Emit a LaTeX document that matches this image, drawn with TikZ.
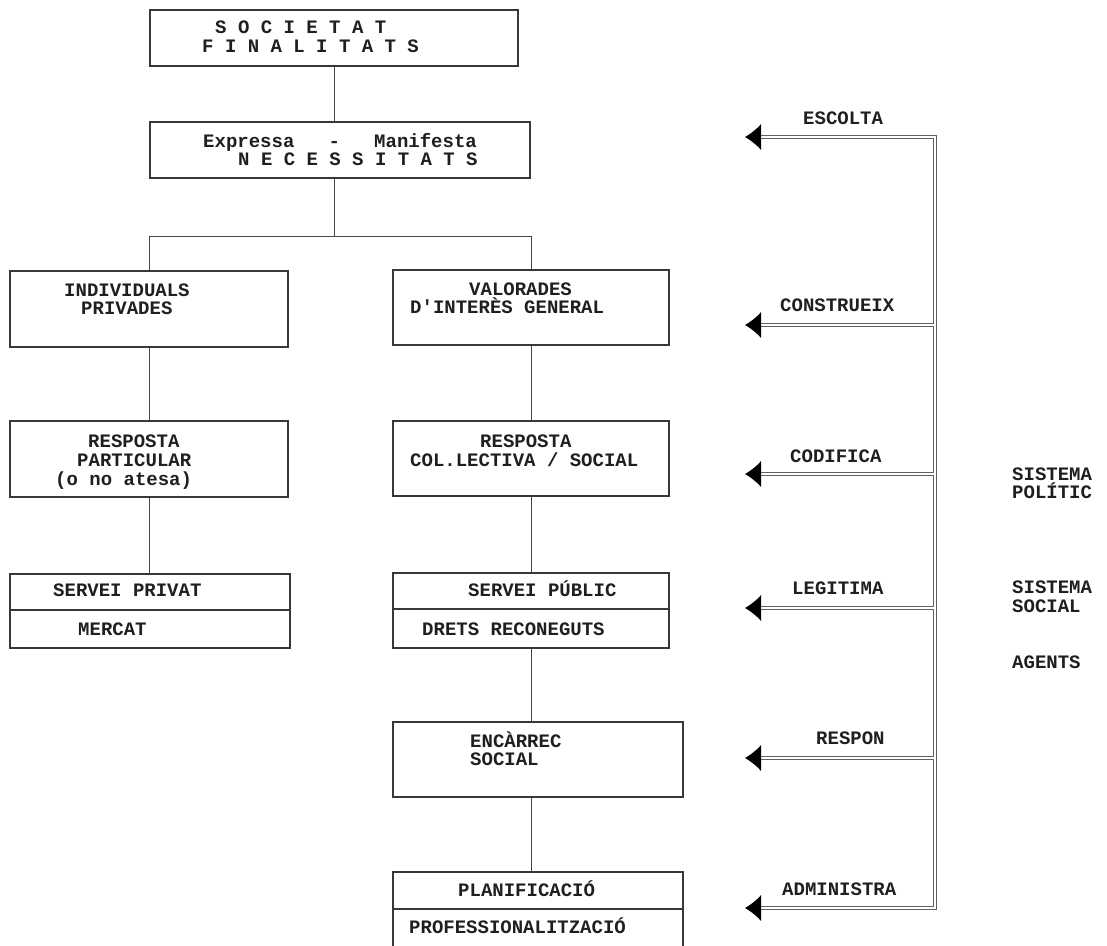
\documentclass[tikz,border=0pt]{standalone}
\usepackage{fontspec}
\setmonofont{Liberation Mono}
\usetikzlibrary{arrows.meta}
\begin{document}
\begin{tikzpicture}[x=1pt,y=-1pt,
  box/.style={draw=black!78, line width=1.1pt, rectangle, inner sep=0pt},
  lbl/.style={anchor=base west, inner sep=0pt, text=black!88,
    font=\ttfamily\bfseries\fontsize{19}{19}\selectfont},
  conn/.style={draw=black!72, line width=1pt},
  dbl/.style={draw=black!62, line width=0.9pt, double=white, double distance=2.6pt},
  tipL/.style={-{Latex[length=16pt,width=26pt,color=black]}},
  tipB/.style={{Latex[length=16pt,width=26pt,color=black]}-{Latex[length=16pt,width=26pt,color=black]}}]
\useasboundingbox (0,0) rectangle (1107,945);
\clip (0,0) rectangle (1107,945);
\fill[white] (0,0) rectangle (1107,945);

% ---- boxes ----
\node[box, minimum width=368pt, minimum height=56pt] (soc) at (334,38) {};
\node[box, minimum width=380pt, minimum height=56pt] (nec) at (340,150) {};
\node[box, minimum width=278pt, minimum height=76pt] (ind) at (149,309) {};
\node[box, minimum width=276pt, minimum height=75pt] (val) at (531,307.5) {};
\node[box, minimum width=278pt, minimum height=76pt] (rp) at (149,459) {};
\node[box, minimum width=276pt, minimum height=75pt] (rc) at (531,458.5) {};
\node[box, minimum width=280pt, minimum height=74pt] (sp) at (150,611) {};
\node[box, minimum width=276pt, minimum height=75pt] (spub) at (531,610.5) {};
\node[box, minimum width=290pt, minimum height=75pt] (enc) at (538,759.5) {};
\node[box, minimum width=290pt, minimum height=88pt] (pla) at (538,916) {};

% dividers
\coordinate (dsp) at (0,610);
\coordinate (dspub) at (0,609);
\coordinate (dpla) at (0,909);
\draw[box] (sp.west |- dsp) -- (sp.east |- dsp);
\draw[box] (spub.west |- dspub) -- (spub.east |- dspub);
\draw[box] (pla.west |- dpla) -- (pla.east |- dpla);

% ---- connectors ----
\draw[conn] (soc.south) -- (soc.south |- nec.north);
\draw[conn] (soc.south |- nec.south) -- ++(0,58) coordinate (br);
\draw[conn] (ind.north) |- (br) -| (val.north);
\draw[conn] (ind.south) -- (rp.north);
\draw[conn] (val.south) -- (rc.north);
\draw[conn] (rp.south) -- (rp.south |- sp.north);
\draw[conn] (rc.south) -- (spub.north);
\draw[conn] (spub.south) -- (spub.south |- enc.north);
\draw[conn] (spub.south |- enc.south) -- (spub.south |- pla.north);

% ---- texts in boxes ----
\node[lbl] (t1) at (215,33) {S O C I E T A T};
\node[lbl] (t2) at (202,52) {F I N A L I T A T S};
\node[lbl] (t3) at (203,147) {Expressa~~~-~~~Manifesta};
\node[lbl] (t4) at (238,165) {N E C E S S I T A T S};
\node[lbl] (t5) at (64,296) {INDIVIDUALS};
\node[lbl] (t6) at (81,314) {PRIVADES};
\node[lbl] (t7) at (469,295) {VALORADES};
\node[lbl] (t8) at (410,313) {D'INTERÈS GENERAL};
\node[lbl] (t9) at (88,447) {RESPOSTA};
\node[lbl] (t10) at (77,466) {PARTICULAR};
\node[lbl] (t11) at (55,485) {(o no atesa)};
\node[lbl] (t12) at (480,447) {RESPOSTA};
\node[lbl] (t13) at (410,466) {COL.LECTIVA / SOCIAL};
\node[lbl] (t14) at (53,596) {SERVEI PRIVAT};
\node[lbl] (t15) at (78,635) {MERCAT};
\node[lbl] (t16) at (468,596) {SERVEI PÚBLIC};
\node[lbl] (t17) at (422,635) {DRETS RECONEGUTS};
\node[lbl] (t18) at (470,747) {ENCÀRREC};
\node[lbl] (t19) at (470,765) {SOCIAL};
\node[lbl] (t20) at (458,896) {PLANIFICACIÓ};
\node[lbl] (t21) at (409,933) {PROFESSIONALITZACIÓ};

% ---- right side ----
\coordinate (tEsc) at (745,137);
\coordinate (tCon) at (745,325);
\coordinate (tCod) at (745,474);
\coordinate (tLeg) at (745,608);
\coordinate (tRes) at (745,758);
\coordinate (tAdm) at (745,908);
\coordinate (cTop) at (935,137);
\coordinate (cBot) at (935,908);
\coordinate (jCon) at (933.7,325);
\coordinate (jCod) at (933.7,474);
\coordinate (jLeg) at (933.7,608);
\coordinate (jRes) at (933.7,758);

\draw[dbl, tipB] (tEsc) -- (cTop) -- (cBot) -- (tAdm);
\draw[dbl, tipL] (jCon) -- (tCon);
\draw[dbl, tipL] (jCod) -- (tCod);
\draw[dbl, tipL] (jLeg) -- (tLeg);
\draw[dbl, tipL] (jRes) -- (tRes);

\node[lbl] (l1) at (803,124) {ESCOLTA};
\node[lbl] (l2) at (780,311) {CONSTRUEIX};
\node[lbl] (l3) at (790,462) {CODIFICA};
\node[lbl] (l4) at (792,594) {LEGITIMA};
\node[lbl] (l5) at (816,744) {RESPON};
\node[lbl] (l6) at (782,895) {ADMINISTRA};

\node[lbl] (s1) at (1012,480) {SISTEMA};
\node[lbl] (s2) at (1012,498) {POLÍTIC};
\node[lbl] (s3) at (1012,593) {SISTEMA};
\node[lbl] (s4) at (1012,612) {SOCIAL};
\node[lbl] (s5) at (1012,668) {AGENTS};
\end{tikzpicture}
\end{document}
